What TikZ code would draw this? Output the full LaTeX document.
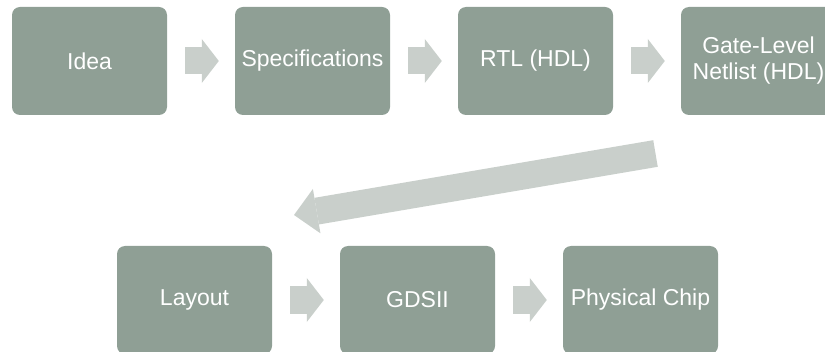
\documentclass[tikz,border=0pt]{standalone}
\usepackage{fontspec}
\setmainfont{Liberation Sans}
\usetikzlibrary{arrows.meta}
\definecolor{boxgreen}{RGB}{143,159,149}
\definecolor{arrowgray}{RGB}{201,207,203}

\begin{document}
\begin{tikzpicture}[x=1pt,y=1pt,
	stage/.style={rectangle, rounded corners=8pt, fill=boxgreen, text=white,
		minimum width=155pt, minimum height=108pt, inner sep=0pt, align=center,
		font=\fontsize{23}{26}\selectfont},
	flow/.style={draw=arrowgray, line width=27pt,
		-{Triangle[width=44pt,length=17pt,line width=0pt]},
		shorten <=18pt, shorten >=16pt}]
	\def \hor{ 223 };
	\def \rowa{ 290 };
	\def \rowb{ 51 };
	\useasboundingbox (0,0) rectangle (825,351);

	\node[stage] (idea) at (89.5+0*\hor,\rowa) {Idea};
	\node[stage] (spec) at (89.5+1*\hor,\rowa) {Specifications};
	\node[stage] (rtl) at (89.5+2*\hor,\rowa) {RTL (HDL)};
	\node[stage] (netlist) at (89.5+3*\hor,\rowa) {Gate-Level\\Netlist (HDL)};
	\node[stage] (layout) at (194.5+0*\hor,\rowb) {Layout};
	\node[stage] (gds) at (194.5+1*\hor,\rowb) {GDSII};
	\node[stage] (chip) at (194.5+2*\hor,\rowb) {Physical Chip};

	\coordinate (wrapstart) at (655.5,197.5);
	\coordinate (wrapend) at (294,136);

	\draw[flow] (idea) -- (spec);
	\draw[flow] (spec) -- (rtl);
	\draw[flow] (rtl) -- (netlist);
	\draw[flow, shorten <=0pt, shorten >=0pt,
		-{Triangle[width=45pt,length=23pt,line width=0pt]}] (wrapstart) -- (wrapend);
	\draw[flow] (layout) -- (gds);
	\draw[flow] (gds) -- (chip);
\end{tikzpicture}
\end{document}
